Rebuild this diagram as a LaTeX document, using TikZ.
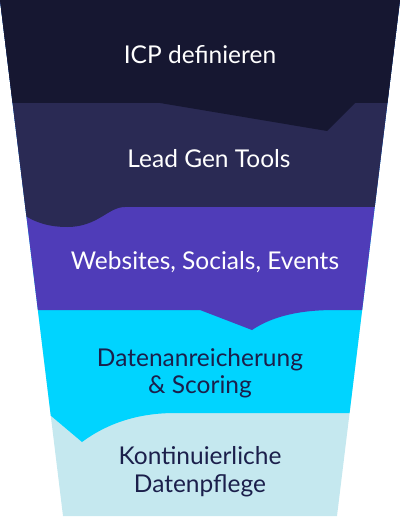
\documentclass[tikz,border=0pt]{standalone}
\usepackage{fontspec}
\setmainfont{Lato}
\definecolor{bandA}{HTML}{161731}
\definecolor{bandB}{HTML}{2A2A54}
\definecolor{bandC}{HTML}{4F3CB8}
\definecolor{bandD}{HTML}{00D4FF}
\definecolor{bandE}{HTML}{C5E8EF}
\definecolor{darktext}{HTML}{1B1F4B}
\begin{document}
\begin{tikzpicture}[x=1pt,y=-1pt,
  lbl/.style={anchor=base,inner sep=0pt,font=\fontsize{24.5}{27}\selectfont},
  lightlbl/.style={lbl,text=white},
  darklbl/.style={lbl,text=darktext}]
\useasboundingbox (0,0) rectangle (400,518);
\begin{scope}
\clip (0,0) -- (400,0) -- (337,516) -- (63,516) -- cycle;
\fill[bandE] (-10,-10) rectangle (410,530);
\fill[bandD] (-10,-10) -- (410,-10) -- (410,413) -- (175,413)
  .. controls (135,413) and (105,425) .. (82,442) -- (50,415) -- (-10,415) -- cycle;
\fill[bandC] (-10,-10) -- (410,-10) -- (410,310) -- (335,310)
  .. controls (295,310) and (270,318) .. (252,330) -- (200,310) -- (-10,310) -- cycle;
\fill[bandB] (-10,-10) -- (410,-10) -- (410,207) -- (125,207)
  .. controls (108,207) and (98,227) .. (67,227)
  .. controls (45,227) and (30,220) .. (20,212) -- (-10,195) -- cycle;
\fill[bandA] (-10,-10) -- (410,-10) -- (410,103) -- (355,103) -- (327,131)
  -- (160,103) -- (-10,103) -- cycle;
\end{scope}
\node[lightlbl] (icp) at (200,64) {ICP definieren};
\node[lightlbl] (lead) at (209,168) {Lead Gen Tools};
\node[lightlbl] (web) at (205,269) {Websites, Socials, Events};
\node[darklbl] (daten1) at (200,366) {Datenanreicherung};
\node[darklbl] (daten2) at (200,393) {\& Scoring};
\node[darklbl] (kont1) at (200,464) {Kontinuierliche};
\node[darklbl] (kont2) at (200,492) {Datenpflege};
\end{tikzpicture}
\end{document}
